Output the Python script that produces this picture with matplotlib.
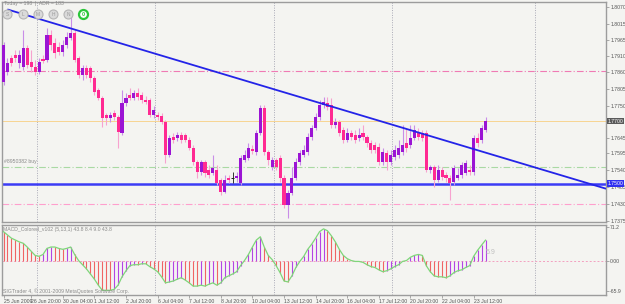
import numpy as np
import matplotlib
matplotlib.use("Agg")
import matplotlib.pyplot as plt
import matplotlib.transforms as mtransforms

plt.rcParams["font.family"] = ["Liberation Sans", "DejaVu Sans"]

# GBPUSD-like H4 bars, oldest first
opens = [1.7827, 1.7860, 1.7905, 1.7915, 1.7889, 1.7876, 1.7938, 1.7892, 1.7876, 1.7860,
         1.7902, 1.7899, 1.7980, 1.7954, 1.7941, 1.7925, 1.7947, 1.7970, 1.7986, 1.7905,
         1.7850, 1.7873, 1.7873, 1.7840, 1.7801, 1.7775, 1.7720, 1.7710, 1.7726, 1.7713,
         1.7661, 1.7759, 1.7785, 1.7775, 1.7791, 1.7785, 1.7769, 1.7769, 1.7720, 1.7720,
         1.7717, 1.7697, 1.7590, 1.7648, 1.7645, 1.7655, 1.7655, 1.7639, 1.7613, 1.7567,
         1.7535, 1.7567, 1.7541, 1.7531, 1.7541, 1.7509, 1.7470, 1.7515, 1.7515, 1.7515,
         1.7499, 1.7574, 1.7580, 1.7609, 1.7600, 1.7661, 1.7743, 1.7600, 1.7551, 1.7574,
         1.7580, 1.7515, 1.7427, 1.7466, 1.7515, 1.7567, 1.7590, 1.7600, 1.7648, 1.7678,
         1.7713, 1.7752, 1.7759, 1.7752, 1.7687, 1.7697, 1.7671, 1.7639, 1.7661, 1.7655,
         1.7645, 1.7661, 1.7648, 1.7629, 1.7622, 1.7616, 1.7567, 1.7596, 1.7567, 1.7583,
         1.7590, 1.7600, 1.7629, 1.7622, 1.7645, 1.7665, 1.7661, 1.7661, 1.7541, 1.7551,
         1.7509, 1.7541, 1.7525, 1.7515, 1.7502, 1.7515, 1.7525, 1.7531, 1.7541, 1.7535,
         1.7645, 1.7639, 1.7671]
highs = [1.7957, 1.7905, 1.7915, 1.7931, 1.7931, 1.7996, 1.7947, 1.7931, 1.7899, 1.7905,
         1.7915, 1.8003, 1.7996, 1.7970, 1.7957, 1.7964, 1.7990, 1.8038, 1.7996, 1.7912,
         1.7882, 1.7882, 1.7879, 1.7847, 1.7808, 1.7782, 1.7726, 1.7730, 1.7736, 1.7720,
         1.7801, 1.7791, 1.7808, 1.7801, 1.7808, 1.7795, 1.7782, 1.7775, 1.7749, 1.7730,
         1.7726, 1.7704, 1.7655, 1.7661, 1.7665, 1.7665, 1.7661, 1.7648, 1.7622, 1.7574,
         1.7574, 1.7574, 1.7557, 1.7590, 1.7557, 1.7515, 1.7525, 1.7525, 1.7535, 1.7535,
         1.7590, 1.7606, 1.7629, 1.7622, 1.7671, 1.7752, 1.7752, 1.7606, 1.7583, 1.7580,
         1.7590, 1.7525, 1.7476, 1.7551, 1.7580, 1.7606, 1.7622, 1.7661, 1.7687, 1.7726,
         1.7769, 1.7778, 1.7778, 1.7775, 1.7710, 1.7704, 1.7681, 1.7678, 1.7671, 1.7671,
         1.7678, 1.7687, 1.7655, 1.7639, 1.7632, 1.7629, 1.7613, 1.7606, 1.7606, 1.7622,
         1.7639, 1.7687, 1.7678, 1.7687, 1.7687, 1.7678, 1.7671, 1.7671, 1.7557, 1.7557,
         1.7557, 1.7551, 1.7535, 1.7525, 1.7557, 1.7548, 1.7567, 1.7574, 1.7557, 1.7655,
         1.7661, 1.7687, 1.7713]
lows = [1.7817, 1.7850, 1.7879, 1.7892, 1.7873, 1.7866, 1.7873, 1.7860, 1.7850, 1.7853,
        1.7889, 1.7892, 1.7931, 1.7905, 1.7915, 1.7912, 1.7938, 1.7964, 1.7892, 1.7840,
        1.7834, 1.7840, 1.7827, 1.7785, 1.7769, 1.7681, 1.7687, 1.7697, 1.7704, 1.7613,
        1.7655, 1.7749, 1.7769, 1.7769, 1.7769, 1.7759, 1.7756, 1.7713, 1.7710, 1.7704,
        1.7691, 1.7564, 1.7583, 1.7629, 1.7635, 1.7629, 1.7632, 1.7606, 1.7557, 1.7515,
        1.7525, 1.7518, 1.7515, 1.7525, 1.7492, 1.7460, 1.7466, 1.7499, 1.7499, 1.7502,
        1.7492, 1.7567, 1.7574, 1.7593, 1.7590, 1.7655, 1.7590, 1.7557, 1.7541, 1.7541,
        1.7502, 1.7418, 1.7385, 1.7460, 1.7509, 1.7557, 1.7583, 1.7590, 1.7639, 1.7671,
        1.7704, 1.7743, 1.7736, 1.7678, 1.7678, 1.7652, 1.7629, 1.7632, 1.7639, 1.7629,
        1.7635, 1.7639, 1.7616, 1.7596, 1.7596, 1.7557, 1.7557, 1.7541, 1.7557, 1.7574,
        1.7580, 1.7590, 1.7600, 1.7613, 1.7639, 1.7639, 1.7635, 1.7535, 1.7531, 1.7486,
        1.7502, 1.7509, 1.7502, 1.7444, 1.7492, 1.7509, 1.7515, 1.7525, 1.7525, 1.7525,
        1.7616, 1.7629, 1.7665]
closes = [1.7947, 1.7889, 1.7889, 1.7905, 1.7915, 1.7938, 1.7882, 1.7876, 1.7860, 1.7892,
          1.7895, 1.7980, 1.7947, 1.7921, 1.7925, 1.7947, 1.7973, 1.7986, 1.7899, 1.7850,
          1.7873, 1.7850, 1.7840, 1.7795, 1.7775, 1.7710, 1.7710, 1.7720, 1.7713, 1.7665,
          1.7759, 1.7775, 1.7775, 1.7791, 1.7778, 1.7769, 1.7762, 1.7720, 1.7736, 1.7713,
          1.7697, 1.7590, 1.7645, 1.7639, 1.7655, 1.7639, 1.7639, 1.7613, 1.7567, 1.7535,
          1.7567, 1.7531, 1.7525, 1.7548, 1.7499, 1.7470, 1.7509, 1.7509, 1.7515, 1.7522,
          1.7580, 1.7590, 1.7613, 1.7603, 1.7661, 1.7743, 1.7600, 1.7574, 1.7574, 1.7551,
          1.7515, 1.7427, 1.7466, 1.7515, 1.7567, 1.7596, 1.7606, 1.7648, 1.7678, 1.7713,
          1.7752, 1.7762, 1.7746, 1.7687, 1.7697, 1.7661, 1.7639, 1.7661, 1.7648, 1.7639,
          1.7655, 1.7648, 1.7629, 1.7606, 1.7606, 1.7567, 1.7600, 1.7567, 1.7590, 1.7606,
          1.7613, 1.7622, 1.7613, 1.7645, 1.7671, 1.7648, 1.7645, 1.7541, 1.7551, 1.7509,
          1.7541, 1.7518, 1.7515, 1.7499, 1.7548, 1.7525, 1.7557, 1.7564, 1.7535, 1.7645,
          1.7629, 1.7678, 1.7700]

# MACD_Colored histogram, one value per bar
macd = [62, 55, 48, 44, 40, 37, 29, 20, 11, 9,
        13, 26, 29, 29, 26, 24, 26, 29, 13, 0,
        -9, -18, -29, -40, -53, -64, -64, -64, -62, -53,
        -35, -22, -11, -9, -9, -7, -7, -13, -18, -24,
        -35, -48, -46, -44, -40, -37, -42, -48, -55, -55,
        -53, -55, -51, -48, -53, -48, -37, -33, -29, -24,
        -11, 0, 13, 29, 44, 51, 29, 11, 2, -11,
        -26, -44, -46, -33, -15, -2, 9, 24, 35, 48,
        62, 68, 64, 53, 40, 24, 11, 4, 0, -2,
        -2, -4, -9, -13, -15, -20, -24, -22, -18, -13,
        -9, -2, 0, 7, 11, 13, 11, -11, -24, -33,
        -35, -35, -37, -33, -26, -22, -20, -15, -11, 9,
        22, 33, 43.8]

price_ticks = [1.8070, 1.8015, 1.7965, 1.7910, 1.7860, 1.7805, 1.7750,
               1.7645, 1.7595, 1.7540, 1.7485, 1.7430, 1.7375]
macd_ticks = [71.2, 0.0, -65.9]
macd_tick_labels = ["71.2", "0.00", "-65.9"]

time_labels = ["25 Jun 2009", "26 Jun 20:00", "30 Jun 04:00", "1 Jul 12:00",
               "2 Jul 20:00", "6 Jul 04:00", "7 Jul 12:00", "8 Jul 20:00",
               "10 Jul 04:00", "13 Jul 12:00", "14 Jul 20:00", "16 Jul 04:00",
               "17 Jul 12:00", "20 Jul 20:00", "22 Jul 04:00", "23 Jul 12:00"]

# trend line anchors (bar index, price)
trend_bar = [1.2, 152.3]
trend_price = [1.8062, 1.7481]

bid = 1.7700
level_blue = 1.7497
level_buy = 1.7551
level_pink_hi = 1.7863
level_pink_lo = 1.7430

bg = "#f4f4f1"
bull, bear = "#9b14d4", "#ff2a92"
bull_w, bear_w = "#c98de8", "#f7a2cf"
W, H = 625, 304
FS = 3.7


def box(x0, y0, x1, y1):
    return [x0 / W, 1 - y1 / H, (x1 - x0) / W, (y1 - y0) / H]


fig = plt.figure(figsize=(6.25, 3.04), dpi=100, facecolor=bg)
ax = fig.add_axes(box(2, 2, 606, 222), facecolor=bg)
am = fig.add_axes(box(2, 225, 606, 295), facecolor=bg)

o = np.array(opens)
c = np.array(closes)
hi = np.array(highs)
lo = np.array(lows)
n = len(c)
idx = np.arange(n)
up = c > o
dn = c < o
dj = c == o

grid_bars = [8.5, 38.4, 68.5, 98.4, 134.6]
for a in (ax, am):
    for g in grid_bars:
        a.axvline(g, color="#a9a9b6", lw=0.7, ls=(0, (1, 1.5)), zorder=0)

# price pane
ax.axhline(level_pink_hi, color="#f07ab4", lw=0.8, ls=(0, (6, 2, 1, 2)), zorder=1)
ax.axhline(bid, color="#f8d592", lw=0.7, zorder=1)
ax.axhline(level_buy, color="#a9d9a3", lw=0.8, ls=(0, (6, 2, 1, 2)), zorder=1)
ax.axhline(level_blue, color="#3b3bf5", lw=1.8, zorder=1)
ax.axhline(level_pink_lo, color="#ff9fcd", lw=0.8, ls=(0, (6, 2, 1, 2)), zorder=1)

ax.vlines(idx[up], lo[up], hi[up], color=bull_w, lw=0.8, zorder=2)
ax.vlines(idx[dn], lo[dn], hi[dn], color=bear_w, lw=0.8, zorder=2)
ax.vlines(idx[dj], lo[dj], hi[dj], color="#333333", lw=0.7, zorder=2)
ax.bar(idx[up], (c - o)[up], bottom=o[up], width=0.78, color=bull, lw=0, zorder=3)
ax.bar(idx[dn], (o - c)[dn], bottom=c[dn], width=0.78, color=bear, lw=0, zorder=3)
ax.hlines(o[dj], idx[dj] - 0.4, idx[dj] + 0.4, color="#222222", lw=0.7, zorder=3)

ax.plot(trend_bar, trend_price, color="#2424e8", lw=1.3, zorder=4)

ax.set_xlim(-0.38, 152.5)
ax.set_ylim(1.7372, 1.8087)
ax.set_xticks([])
ax.yaxis.tick_right()
ax.set_yticks(price_ticks)
ax.set_yticklabels(["%.4f" % t for t in price_ticks])

trans = mtransforms.blended_transform_factory(ax.transAxes, ax.transData)
ax.text(1.003, bid, "%.4f" % bid, transform=trans, fontsize=FS, color="white",
        va="center", ha="left",
        bbox=dict(boxstyle="square,pad=0.12", fc="#5a5a5a", ec="none"))
ax.text(1.003, level_blue, "%.4f" % 1.7500, transform=trans, fontsize=FS, color="white",
        va="center", ha="left",
        bbox=dict(boxstyle="square,pad=0.12", fc="#3030f0", ec="none"))
ax.text(0.003, level_buy + 0.0009, "#8950382 buy", transform=trans, fontsize=FS,
        color="#8a8a8a", va="bottom", ha="left")

# MACD pane
m = np.array(macd, dtype=float)
rising = np.diff(m, prepend=m[0] + 1) > 0
am.axhline(0, color="#f3a0c0", lw=0.7, ls=(0, (2, 2)), zorder=1)
am.vlines(idx[rising], 0, m[rising], color="#b444e4", lw=0.8, zorder=2)
am.vlines(idx[~rising], 0, m[~rising], color="#f06464", lw=0.8, zorder=2)
am.plot(idx, m, color="#7fd67a", lw=0.9, zorder=3)
am.set_xlim(-0.38, 152.5)
am.set_ylim(-74.1, 76.3)
am.yaxis.tick_right()
am.set_yticks(macd_ticks)
am.set_yticklabels(macd_tick_labels)
label_bars = [0] + list(range(7, n, 8))
am.set_xticks(label_bars)
am.set_xticklabels(time_labels, ha="left")

for a in (ax, am):
    for s in a.spines.values():
        s.set_color("#9c9c9c")
        s.set_linewidth(1.0)
    a.tick_params(axis="y", length=2, width=0.6, pad=1.0, labelsize=FS,
                  colors="#9c9c9c", labelcolor="#555555")
am.tick_params(axis="x", length=2, width=0.6, pad=0.8, labelsize=FS,
               colors="#9c9c9c", labelcolor="#555555")

# overlay texts
fig.text(4 / W, 1 - 1.5 / H, "Today = 198  |  ADR = 183", fontsize=FS, color="#8a8a8a",
         va="top", ha="left")
icon_x = [7, 23, 38, 53, 68]
icon_txt = ["S", "L", "M", "H", "N"]
for x, t in zip(icon_x, icon_txt):
    ax.scatter([x / W], [1 - 14 / H], s=42, transform=fig.transFigure, marker="o",
               facecolor="#dadada", edgecolor="#b5b5b5", lw=0.8, zorder=6, clip_on=False)
    fig.text(x / W, 1 - 14 / H, t, fontsize=3.5, color="#9a9a9a", ha="center", va="center",
             zorder=7)
ax.scatter([83 / W], [1 - 14 / H], s=42, transform=fig.transFigure, marker="o",
           facecolor="white", edgecolor="#2cc63a", lw=1.6, zorder=6, clip_on=False)
fig.text(83 / W, 1 - 14 / H, "0", fontsize=4, color="#2cc63a", ha="center", va="center",
         fontweight="bold", zorder=7)

fig.text(3 / W, 1 - 230 / H, "MACD_Colored_v102 (5,13,1) 43.8 8.4 9.0 43.8", fontsize=FS,
         color="#8a8a8a", va="center", ha="left")
fig.text(3 / W, 1 - 291 / H, "SIGTrader 4, \u00a9 2001-2009 MetaQuotes Software Corp.",
         fontsize=FS, color="#8a8a8a", va="center", ha="left")
fig.text(486 / W, 1 - 253 / H, "5.9", fontsize=5, color="#c0c0c0", va="center", ha="left")

fig.savefig("out.png", dpi=100, facecolor=bg)
